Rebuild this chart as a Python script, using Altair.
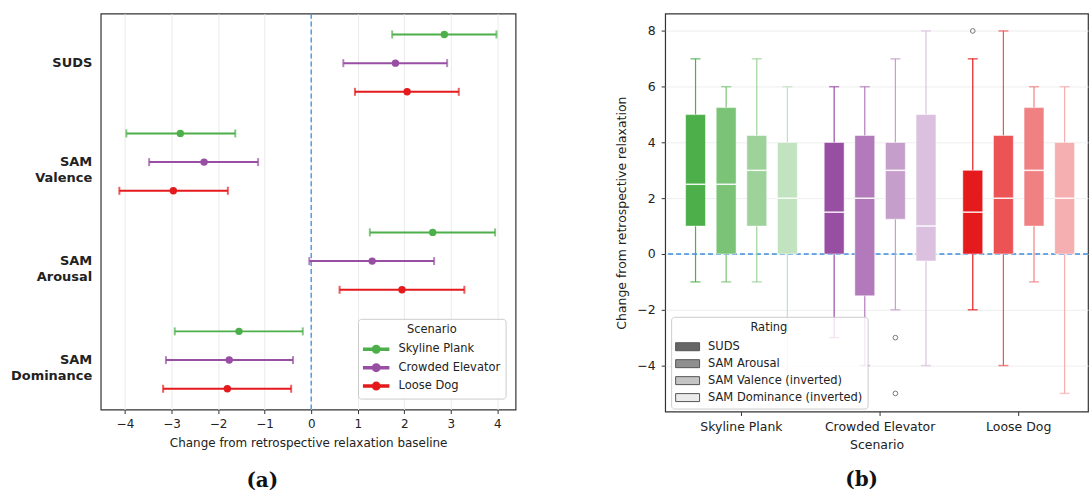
import altair as alt
import pandas as pd

# ---------------- Panel (a): mean change with 95% CI ----------------
metrics = ["SUDS", "SAM Valence", "SAM Arousal", "SAM Dominance"]
scenarios = ["Skyline Plank", "Crowded Elevator", "Loose Dog"]

skyline_mean = [2.86, -2.81, 2.61, -1.55]
skyline_lo = [1.74, -3.97, 1.26, -2.93]
skyline_hi = [3.98, -1.63, 3.95, -0.18]

elevator_mean = [1.81, -2.30, 1.31, -1.76]
elevator_lo = [0.69, -3.48, -0.04, -3.12]
elevator_hi = [2.92, -1.14, 2.64, -0.39]

dog_mean = [2.06, -2.96, 1.95, -1.80]
dog_lo = [0.94, -4.12, 0.61, -3.18]
dog_hi = [3.17, -1.79, 3.29, -0.43]

# ---------------- Panel (b): box plots ----------------
ratings = ["SUDS", "SAM Arousal", "SAM Valence (inverted)", "SAM Dominance (inverted)"]

skyline_q1 = [1, 0, 1, 0]
skyline_med = [2.5, 2.5, 3, 2]
skyline_q3 = [5, 5.25, 4.25, 4]
skyline_wlo = [-1, -1, -1, -5]
skyline_whi = [7, 6, 7, 6]

elevator_q1 = [0, -1.5, 1.25, -0.25]
elevator_med = [1.5, 2, 3, 1]
elevator_q3 = [4, 4.25, 4, 5]
elevator_wlo = [-3, -4, -2, -4]
elevator_whi = [6, 6, 7, 8]

dog_q1 = [0, 0, 1, 0]
dog_med = [1.5, 2, 3, 2]
dog_q3 = [3, 4.25, 5.25, 4]
dog_wlo = [-2, -4, -1, -5]
dog_whi = [7, 8, 6, 6]

outlier_scenario = ["Crowded Elevator", "Crowded Elevator", "Loose Dog"]
outlier_rating = ["SAM Valence (inverted)", "SAM Valence (inverted)", "SUDS"]
outlier_value = [-3, -5, 8]

# ---------------- styles ----------------
scen_colors = ["#4daf4a", "#984ea3", "#e41a1c"]
box_palette = [
    "#4daf4a", "#7ac377", "#9dd39b", "#c1e3c0",
    "#984ea3", "#b27aba", "#c69ecc", "#dbc1df",
    "#e41a1c", "#eb5355", "#f08182", "#f6afb0",
]
legend_greys = ["#666666", "#8f8f8f", "#c4c4c4", "#ebebeb"]
zero_color = "#3c8de0"
legend_bg = "rgba(255,255,255,0.82)"
FONT = "DejaVu Sans"
frame = alt.ViewBackground(stroke="#333333", strokeWidth=1.2)

# ---------------- tables ----------------
rows = []
for s, mu_l, lo_l, hi_l in zip(
    scenarios,
    [skyline_mean, elevator_mean, dog_mean],
    [skyline_lo, elevator_lo, dog_lo],
    [skyline_hi, elevator_hi, dog_hi],
):
    for m, mu, lo, hi in zip(metrics, mu_l, lo_l, hi_l):
        rows.append(dict(metric=m, scenario=s, mean=mu, lo=lo, hi=hi))
left_df = pd.DataFrame(rows)

brows = []
for s, q1l, mdl, q3l, wll, whl in zip(
    scenarios,
    [skyline_q1, elevator_q1, dog_q1],
    [skyline_med, elevator_med, dog_med],
    [skyline_q3, elevator_q3, dog_q3],
    [skyline_wlo, elevator_wlo, dog_wlo],
    [skyline_whi, elevator_whi, dog_whi],
):
    for r, q1, md, q3, wl, wh in zip(ratings, q1l, mdl, q3l, wll, whl):
        brows.append(dict(scenario=s, rating=r, key=f"{s}|{r}", q1=q1, med=md, q3=q3, wlo=wl, whi=wh))
box_df = pd.DataFrame(brows)
keys = [f"{s}|{r}" for s in scenarios for r in ratings]

out_df = pd.DataFrame(dict(scenario=outlier_scenario, rating=outlier_rating, value=outlier_value))
zero_df = pd.DataFrame(dict(z=[0]))

# ---------------- panel (a) ----------------
line_dot = ("M-1.04,-0.125H2.09V0.125H-1.04Z "
            "M1.0,0A0.47,0.47,0,1,1,0.06,0A0.47,0.47,0,1,1,1.0,0Z")

x_scale_l = alt.Scale(domain=[-4.52, 4.39], nice=False, zero=False)
x_axis_l = alt.Axis(values=list(range(-4, 5)), title="Change from retrospective relaxation baseline",
                    grid=True, gridColor="#ebebeb", tickSize=4, tickColor="#333", domain=False,
                    labelFontSize=12, titleFontSize=12, titleFontWeight="normal", titlePadding=8,
                    labelPadding=5)
y_l = alt.Y("metric:N", sort=metrics, title=None,
            scale=alt.Scale(paddingInner=0, paddingOuter=0),
            axis=alt.Axis(labelExpr="split(datum.label, ' ')", labelFontWeight="bold",
                          labelFontSize=13, labelLineHeight=16, ticks=False, domain=False,
                          labelPadding=9, grid=False))
yoff_l = alt.YOffset("scenario:N", sort=scenarios,
                     scale=alt.Scale(paddingInner=0, paddingOuter=0.225))
color_l = alt.Color("scenario:N", sort=scenarios,
                    scale=alt.Scale(domain=scenarios, range=scen_colors),
                    legend=alt.Legend(title="Scenario", orient="none", legendX=258, legendY=306,
                                      symbolType=line_dot, symbolSize=256, symbolOpacity=1,
                                      labelFontSize=11.5, titleFontSize=11.5, titleFontWeight="normal",
                                      titleAnchor="middle", fillColor=legend_bg, strokeColor="#cccccc",
                                      padding=5, titlePadding=5, cornerRadius=3, rowPadding=2.5,
                                      labelOffset=17.7, labelLimit=300))

base_l = alt.Chart(left_df)
zero_l = alt.Chart(zero_df).mark_rule(color=zero_color, strokeDash=[5, 3], strokeWidth=1.3).encode(
    x=alt.X("z:Q", scale=x_scale_l, axis=x_axis_l))
err_l = base_l.mark_rule(strokeWidth=2).encode(
    x=alt.X("lo:Q", scale=x_scale_l, axis=x_axis_l), x2="hi:Q", y=y_l, yOffset=yoff_l, color=color_l)
cap_lo = base_l.mark_tick(size=8, thickness=2).encode(
    x=alt.X("lo:Q", scale=x_scale_l), y=y_l, yOffset=yoff_l, color=color_l)
cap_hi = base_l.mark_tick(size=8, thickness=2).encode(
    x=alt.X("hi:Q", scale=x_scale_l), y=y_l, yOffset=yoff_l, color=color_l)
pts_l = base_l.mark_point(filled=True, size=55, opacity=1).encode(
    x=alt.X("mean:Q", scale=x_scale_l), y=y_l, yOffset=yoff_l, color=color_l)

left = alt.layer(zero_l, err_l, cap_lo, cap_hi, pts_l).properties(
    width=416, height=397, view=frame,
    title=alt.TitleParams("(a)", orient="bottom", font="DejaVu Serif", fontSize=20, fontWeight="bold",
                          anchor="middle", frame="group", dx=-46, offset=23, color="#111"))

# ---------------- panel (b) ----------------
x_r = alt.X("scenario:N", sort=scenarios,
            scale=alt.Scale(paddingInner=0, paddingOuter=0.0252, align=1),
            axis=alt.Axis(title="Scenario", labelAngle=0, labelFontSize=12.5, titleFontSize=12.5,
                          titleFontWeight="normal", tickSize=4, tickColor="#333", domain=False,
                          grid=False, titlePadding=6, labelPadding=5))
xo_r = alt.XOffset("rating:N", sort=ratings, scale=alt.Scale(paddingInner=0.35, paddingOuter=0.439))
y_scale_r = alt.Scale(domain=[-5.65, 8.62], nice=False, zero=False)
y_axis_r = alt.Axis(values=[-4, -2, 0, 2, 4, 6, 8], title="Change from retrospective relaxation",
                    grid=True, gridColor="#eeeeee", tickSize=4, tickColor="#333", domain=False,
                    labelFontSize=12.5, titleFontSize=12.5, titleFontWeight="normal", titlePadding=8,
                    labelPadding=6)
color_r = alt.Color("key:N", scale=alt.Scale(domain=keys, range=box_palette), legend=None)

base_r = alt.Chart(box_df)
zero_r = alt.Chart(zero_df).mark_rule(color=zero_color, strokeDash=[5, 3], strokeWidth=1.3).encode(
    y=alt.Y("z:Q", scale=y_scale_r, axis=y_axis_r))
whisk = base_r.mark_rule(strokeWidth=1.2).encode(
    x=x_r, xOffset=xo_r, y=alt.Y("wlo:Q", scale=y_scale_r, axis=y_axis_r), y2="whi:Q", color=color_r)
cap_rlo = base_r.mark_tick(size=10, thickness=1.5).encode(
    x=x_r, xOffset=xo_r, y=alt.Y("wlo:Q", scale=y_scale_r), color=color_r)
cap_rhi = base_r.mark_tick(size=10, thickness=1.5).encode(
    x=x_r, xOffset=xo_r, y=alt.Y("whi:Q", scale=y_scale_r), color=color_r)
boxes = base_r.mark_bar(stroke="white", strokeWidth=1, strokeOpacity=0.5).encode(
    x=x_r, xOffset=xo_r, y=alt.Y("q1:Q", scale=y_scale_r), y2="q3:Q", color=color_r)
meds = base_r.mark_tick(size=20, thickness=1.5, color="white", opacity=0.9).encode(
    x=x_r, xOffset=xo_r, y=alt.Y("med:Q", scale=y_scale_r))
outl = alt.Chart(out_df).mark_point(shape="circle", filled=False, size=22, color="#777",
                                     strokeWidth=1, opacity=1).encode(
    x=x_r, xOffset=xo_r, y=alt.Y("value:Q", scale=y_scale_r))
rect_sym = "M-1.125,-0.5H1.875V0.5H-1.125Z"
legend_r = base_r.transform_filter("false").mark_bar().encode(
    x=x_r, xOffset=xo_r, y=alt.Y("q1:Q", scale=y_scale_r),
    fill=alt.Fill("rating:N", sort=ratings, scale=alt.Scale(domain=ratings, range=legend_greys),
                  legend=alt.Legend(title="Rating", orient="none", legendX=6, legendY=304,
                                    symbolType=rect_sym, symbolSize=256, symbolOpacity=1,
                                    symbolStrokeColor="#555555", symbolStrokeWidth=1,
                                    labelFontSize=11.5, titleFontSize=11.5, titleFontWeight="normal",
                                    titleAnchor="middle", fillColor=legend_bg, strokeColor="#cccccc",
                                    padding=5, titlePadding=5, cornerRadius=3, rowPadding=2,
                                    labelOffset=15, labelLimit=300)))

right = alt.layer(zero_r, whisk, cap_rlo, cap_rhi, boxes, meds, outl, legend_r).properties(
    width=424, height=399, view=frame,
    title=alt.TitleParams("(b)", orient="bottom", font="DejaVu Serif", fontSize=20, fontWeight="bold",
                          anchor="middle", frame="group", dx=-15, offset=19, color="#111"))

chart = alt.hconcat(left, right, spacing=98).resolve_scale(
    color="independent", fill="independent"
).resolve_legend(
    color="independent", fill="independent"
).properties(
    padding={"left": 9, "top": 11, "right": 0, "bottom": 0},
    background="white",
).configure_view(stroke="#333333", strokeWidth=1.2).configure(
    font=FONT
).configure_axis(labelColor="#222", titleColor="#222", labelFont=FONT, titleFont=FONT
).configure_legend(labelFont=FONT, titleFont=FONT, labelColor="#222", titleColor="#222")

chart.save("out.html", embed_options={"renderer": "svg", "actions": False})
